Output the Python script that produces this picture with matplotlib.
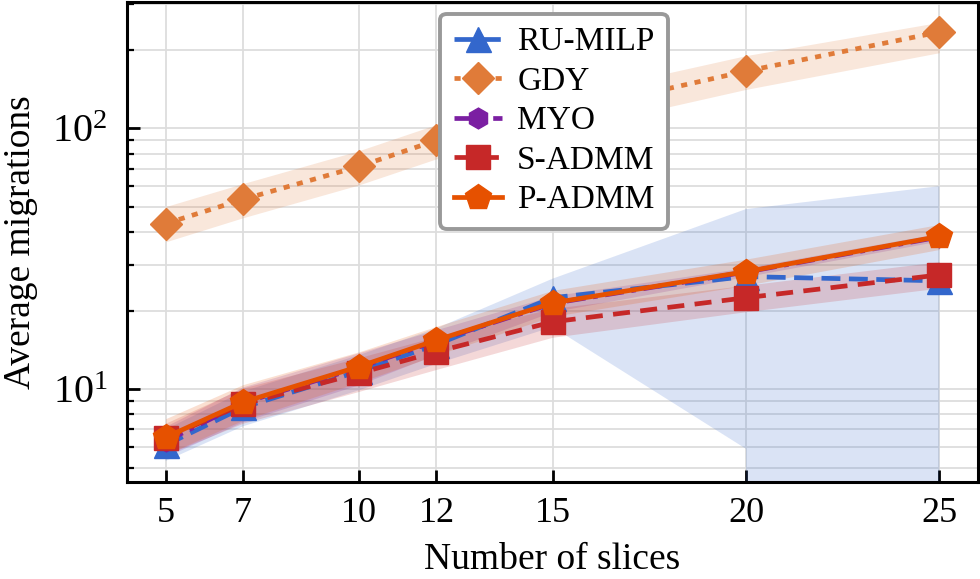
import numpy as np
import matplotlib
matplotlib.use("Agg")
import matplotlib.pyplot as plt

# data
slices = [5, 7, 10, 12, 15, 20, 25]
ru_milp = [6.1, 8.5, 11.7, 14.8, 22.4, 27.0, 26.0]
ru_milp_lo = [5.3, 7.2, 9.9, 12.5, 17.3, 5.9, -8.0]
ru_milp_hi = [7.0, 9.8, 13.5, 17.1, 26.5, 49.0, 60.0]
gdy = [43.1, 53.4, 71.4, 89.9, 113.0, 165.6, 234.0]
gdy_lo = [36.7, 45.4, 60.7, 76.4, 96.0, 141.0, 195.0]
gdy_hi = [50.1, 61.4, 82.1, 103.4, 130.0, 190.0, 255.0]
myo = [6.3, 8.85, 12.1, 15.3, 21.3, 28.1, 38.3]
myo_lo = [5.5, 7.5, 10.4, 13.6, 19.8, 27.0, 37.0]
myo_hi = [7.2, 10.2, 13.8, 16.9, 22.8, 29.2, 39.6]
s_admm = [6.5, 8.75, 11.5, 13.9, 18.1, 22.4, 27.4]
s_admm_lo = [5.6, 7.4, 9.8, 11.9, 15.8, 19.8, 24.4]
s_admm_hi = [7.4, 10.1, 13.2, 15.9, 20.4, 25.0, 30.8]
p_admm = [6.53, 8.91, 12.2, 15.4, 21.4, 28.2, 38.5]
p_admm_lo = [5.6, 7.6, 10.6, 13.5, 19.0, 25.0, 34.3]
p_admm_hi = [7.7, 10.4, 13.9, 17.4, 23.9, 31.5, 42.8]

plt.rcParams['font.family'] = ['Liberation Serif', 'DejaVu Serif']
plt.rcParams['mathtext.fontset'] = 'stix'

fig = plt.figure(figsize=(9.8, 5.79), dpi=100)
ax = fig.add_axes([0.1296, 0.1675, 0.8684, 0.829])

series = [
    ("RU-MILP", ru_milp, ru_milp_lo, ru_milp_hi, "#3367cc", (0, (4, 1.8)), "^", 18),
    ("GDY", gdy, gdy_lo, gdy_hi, "#e07b39", (0, (1.3, 1.6)), "D", 16),
    ("MYO", myo, myo_lo, myo_hi, "#7b1fa2", (0, (4, 1.6, 1, 1.6)), "h", 15),
    ("S-ADMM", s_admm, s_admm_lo, s_admm_hi, "#c62828", (0, (3.6, 2.2)), "s", 17),
    ("P-ADMM", p_admm, p_admm_lo, p_admm_hi, "#e65100", "-", "p", 19),
]

for name, y, lo, hi, col, ls, mk, ms in series:
    ax.fill_between(slices, lo, hi, color=col, alpha=0.18, lw=0)
    ax.plot(slices, y, color=col, linestyle=ls, linewidth=3.4,
            dash_capstyle='butt', marker=mk, markersize=ms, label=name)

ax.set_yscale('log')
ax.set_xlim(4, 26)
ax.set_ylim(4.4, 305)
ax.set_xticks(slices)
ax.set_xticklabels([str(s) for s in slices])
ax.grid(True, which='major', color='#dddddd', lw=1.3)
ax.grid(True, which='minor', axis='y', color='#dddddd', lw=1.3)
ax.set_axisbelow(True)

ax.tick_params(axis='both', which='major', direction='in', length=9, width=2,
               labelsize=26, top=False, right=False)
ax.tick_params(axis='y', which='major', labelsize=29)
ax.tick_params(axis='y', which='minor', direction='in', length=5, width=1.6,
               right=False)
ax.tick_params(axis='x', which='minor', bottom=False, top=False)
ax.tick_params(axis='x', pad=11)
ax.tick_params(axis='y', pad=14)
for sp in ax.spines.values():
    sp.set_linewidth(2.2)

ax.set_xlabel("Number of slices", fontsize=27, labelpad=9)
ax.set_ylabel("Average migrations", fontsize=27, labelpad=10)

leg = ax.legend(loc='upper center', bbox_to_anchor=(0.502, 0.976), fontsize=24,
                frameon=True, fancybox=True, edgecolor='#999999',
                handlelength=1.45, borderpad=0.4, labelspacing=0.27,
                handletextpad=0.45, borderaxespad=0)
leg.get_frame().set_linewidth(2.8)
leg.get_frame().set_alpha(1)

fig.savefig("out.png", dpi=100)
